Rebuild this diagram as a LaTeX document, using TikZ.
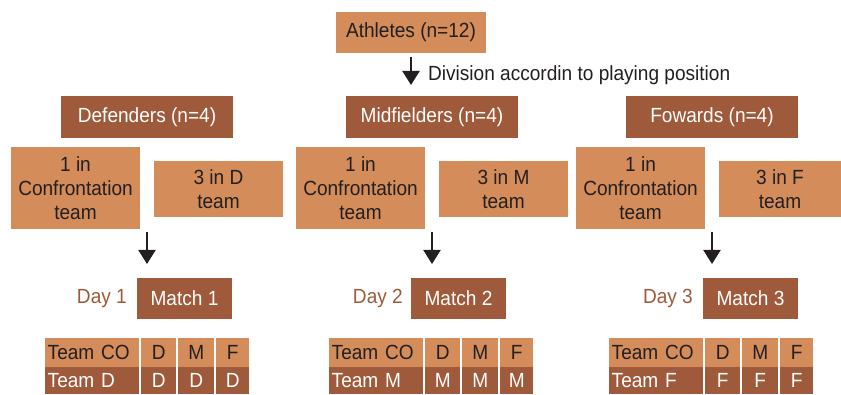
\documentclass[tikz,border=0pt]{standalone}
\usepackage{fontspec}
\setmainfont{Liberation Sans}[FakeStretch=0.93]
\usetikzlibrary{arrows.meta}
\definecolor{lightbox}{HTML}{D38C5A}
\definecolor{darkbox}{HTML}{9E5A3A}
\definecolor{ink}{HTML}{231F20}
\tikzset{
  txt/.style={font=\fontsize{20.5}{24}\selectfont},
  lbox/.style={txt, rectangle, fill=lightbox, text=ink, inner sep=0pt, align=center},
  dbox/.style={txt, rectangle, fill=darkbox, text=white, inner sep=0pt, align=center},
  daylbl/.style={txt, text=darkbox, inner sep=0pt, anchor=east},
  arr/.style={draw=ink, line width=2pt, -{Triangle[width=17pt,length=14pt]}},
}
\newcommand{\teamtable}[3]{%
  % #1 = left x, #2 = name prefix, #3 = letter
  \node[lbox, anchor=north west, minimum width=94pt, minimum height=29pt, text width=89pt, align=left] (#2co) at (#1,338) {Team CO};
  \node[lbox, anchor=north west, minimum width=35pt, minimum height=29pt] (#2c1) at (#1+96,338) {D};
  \node[lbox, anchor=north west, minimum width=36pt, minimum height=29pt] (#2c2) at (#1+133,338) {M};
  \node[lbox, anchor=north west, minimum width=33pt, minimum height=29pt] (#2c3) at (#1+171,338) {F};
  \node[dbox, anchor=north west, minimum width=94pt, minimum height=27pt, text width=89pt, align=left] (#2t) at (#1,367) {Team #3};
  \node[dbox, anchor=north west, minimum width=35pt, minimum height=27pt] (#2d1) at (#1+96,367) {#3};
  \node[dbox, anchor=north west, minimum width=36pt, minimum height=27pt] (#2d2) at (#1+133,367) {#3};
  \node[dbox, anchor=north west, minimum width=33pt, minimum height=27pt] (#2d3) at (#1+171,367) {#3};
}
\begin{document}
\begin{tikzpicture}[x=1pt,y=-1pt]
\useasboundingbox (0,0) rectangle (841,395);

% top
\node[lbox, minimum width=150pt, minimum height=41pt] (ath) at (411,32.5) {Athletes (n=12)};
\coordinate (divtop) at (411,57);
\coordinate (divbot) at (411,85);
\draw[arr] (divtop) -- (divbot);
\node[txt, text=ink, anchor=west, inner sep=0pt] (divlbl) at (428,75) {Division accordin to playing position};

% group headers
\node[dbox, minimum width=172pt, minimum height=42pt] (def) at (147,117) {Defenders (n=4)};
\node[dbox, minimum width=172pt, minimum height=42pt] (mid) at (432,117) {Midfielders (n=4)};
\node[dbox, minimum width=172pt, minimum height=42pt] (fwd) at (712,117) {Fowards (n=4)};

% subgroups
\node[lbox, minimum width=129pt, minimum height=82pt] (defc) at (75.5,188) {1 in\\Confrontation\\team};
\node[lbox, minimum width=129pt, minimum height=56pt] (defd) at (218.5,189) {3 in D\\team};
\node[lbox, minimum width=129pt, minimum height=82pt] (midc) at (360.5,188) {1 in\\Confrontation\\team};
\node[lbox, minimum width=129pt, minimum height=56pt] (midm) at (503.5,189) {3 in M\\team};
\node[lbox, minimum width=129pt, minimum height=82pt] (fwdc) at (640.5,188) {1 in\\Confrontation\\team};
\node[lbox, minimum width=122pt, minimum height=56pt] (fwdf) at (780,189) {3 in F\\team};

% arrows to matches
\coordinate (a1) at (147,232);
\coordinate (a2) at (432,232);
\coordinate (a3) at (712,232);
\coordinate (b1) at (147,264);
\coordinate (b2) at (432,264);
\coordinate (b3) at (712,264);
\draw[arr] (a1) -- (b1);
\draw[arr] (a2) -- (b2);
\draw[arr] (a3) -- (b3);

% matches
\node[dbox, minimum width=95pt, minimum height=41pt] (m1) at (184.5,298.5) {Match 1};
\node[dbox, minimum width=95pt, minimum height=41pt] (m2) at (458.5,298.5) {Match 2};
\node[dbox, minimum width=95pt, minimum height=41pt] (m3) at (750.5,298.5) {Match 3};
\node[daylbl] (d1) at (127,298.5) {Day 1};
\node[daylbl] (d2) at (403,298.5) {Day 2};
\node[daylbl] (d3) at (693,298.5) {Day 3};

% tables
\teamtable{45}{tl}{D}
\teamtable{329}{tm}{M}
\teamtable{609}{tr}{F}
\end{tikzpicture}
\end{document}
